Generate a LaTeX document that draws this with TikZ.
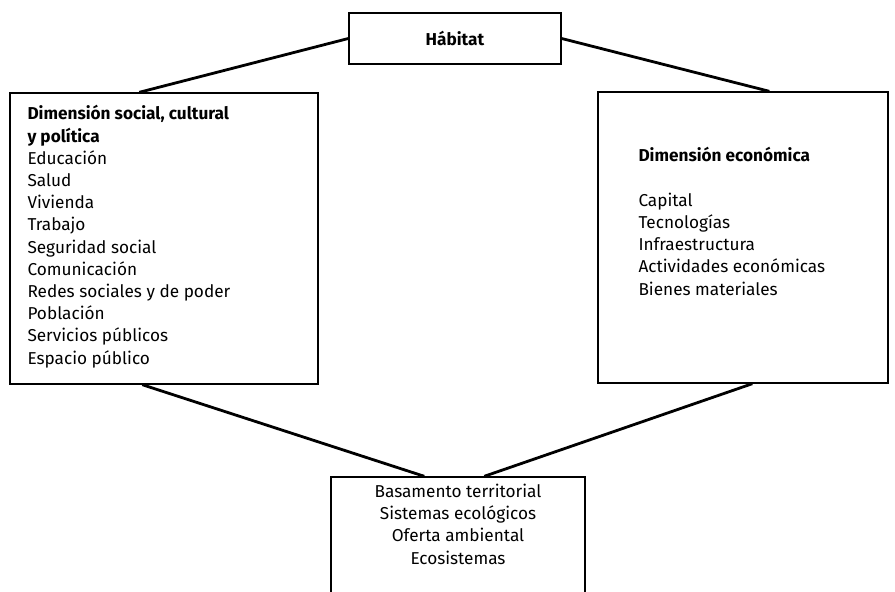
\documentclass[tikz,border=0pt]{standalone}
\usepackage{fontspec}
\setmainfont{Fira Sans}
\begin{document}
\begin{tikzpicture}[x=1pt,y=-1pt,
  frame/.style={draw=black, line width=1.4pt, inner sep=0pt},
  link/.style={draw=black, line width=2.8pt},
  label/.style={font=\fontsize{17.2}{22.2}\selectfont, inner sep=0pt},
]
\useasboundingbox (0,0) rectangle (895,592);
\clip (0,0) rectangle (895,592);

% the four frames
\node[frame, label, minimum width=212pt, minimum height=51pt] (hab) at (455,38.5) {\textbf{Hábitat}};
\node[frame, minimum width=308pt, minimum height=291pt] (soc) at (164,238.5) {};
\node[frame, minimum width=290pt, minimum height=291pt] (eco) at (743,237.5) {};
\node[frame, minimum width=254pt, minimum height=140pt] (bas) at (458,547) {};

% texts inside the frames
\node[label, anchor=north west, align=left] (soctxt) at ([shift={(18pt,-13pt)}]soc.north west)
  {\textbf{Dimensión social, cultural}\\
   \textbf{y política}\\
   Educación\\
   Salud\\
   Vivienda\\
   Trabajo\\
   Seguridad social\\
   Comunicación\\
   Redes sociales y de poder\\
   Población\\
   Servicios públicos\\
   Espacio público};

\node[label, anchor=north west, align=left] (ecotxt) at ([shift={(41pt,-56pt)}]eco.north west)
  {\textbf{Dimensión económica}\\[22.2pt]
   Capital\\
   Tecnologías\\
   Infraestructura\\
   Actividades económicas\\
   Bienes materiales};

\node[label, anchor=north, align=center] (bastxt) at ([yshift=-7.5pt]bas.north)
  {Basamento territorial\\
   Sistemas ecológicos\\
   Oferta ambiental\\
   Ecosistemas};

% connectors
\draw[link] (hab.west) -- ([xshift=130pt]soc.north west);
\draw[link] (hab.east) -- ([xshift=172pt]eco.north west);
\draw[link] ([xshift=133pt]soc.south west) -- ([xshift=94pt]bas.north west);
\draw[link] ([xshift=155pt]eco.south west) -- ([xshift=154pt]bas.north west);
\end{tikzpicture}
\end{document}
